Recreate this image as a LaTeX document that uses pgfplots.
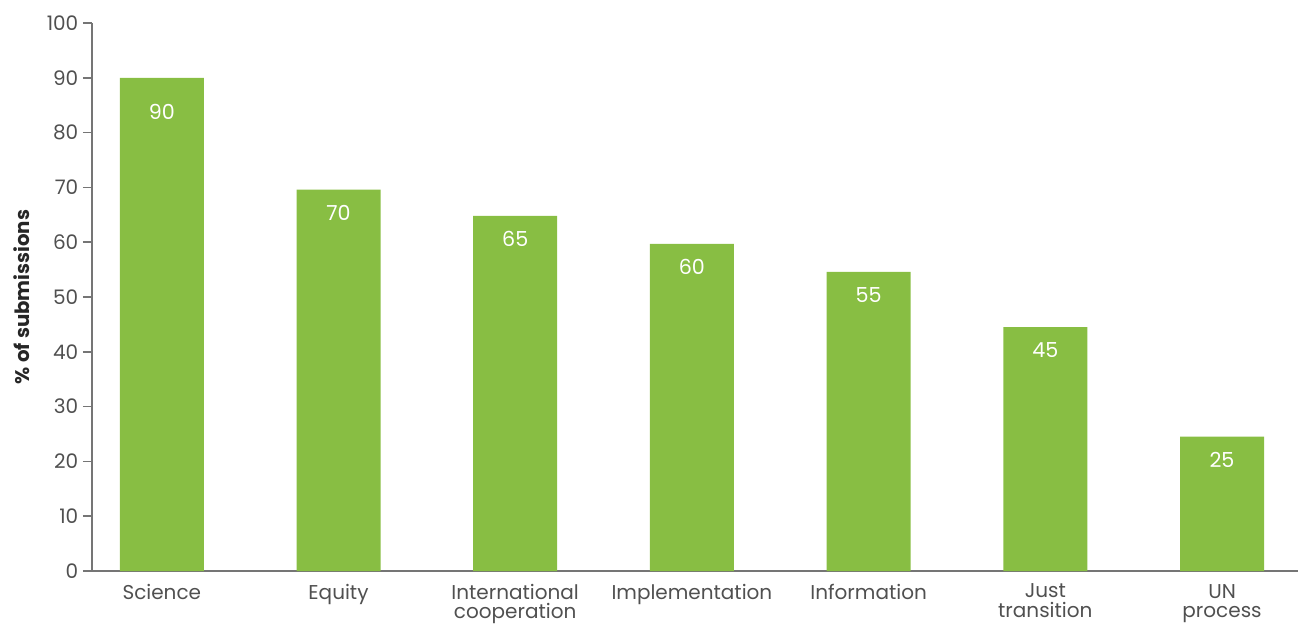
\documentclass[border=0pt]{standalone}
\usepackage{fontspec}
\setmainfont{Poppins}
\usepackage{pgfplots}
\usepackage{pgfplotstable}
\pgfplotsset{compat=1.18}
\definecolor{bargreen}{HTML}{88BE43}
\definecolor{axgray}{HTML}{757575}
\definecolor{txtgray}{HTML}{505050}
\pgfplotstableread{
x y lab off
0 90.0 90 25.5
1 69.6 70 17.25
2 64.8 65 17.25
3 59.7 60 17.25
4 54.6 55 17.25
5 44.5 45 17.25
6 24.5 25 17.25
}\datatab
\begin{document}
\begin{tikzpicture}
\begin{axis}[
 scale only axis, width=904.5pt, height=411pt,
 xmin=-0.395, xmax=6.43, ymin=0, ymax=100,
 axis x line*=bottom, axis y line*=left,
 axis line style={draw=axgray, line width=1.1pt},
 ytick={0,10,...,100},
 xtick={0,...,6},
 xticklabels={Science,Equity,{International\\cooperation},Implementation,Information,{Just\\transition},{UN\\process}},
 xticklabel style={align=center, font=\fontsize{15}{14.6}\selectfont, text=txtgray, yshift=0.5pt},
 yticklabel style={font=\fontsize{15}{17}\selectfont, text=txtgray},
 /pgf/number format/assume math mode=true,
 tick align=outside,
 major tick length=6.75pt,
 ytick style={draw=axgray, line width=1.1pt},
 xtick style={draw=none},
 ylabel={\textbf{\% of submissions}},
 every axis y label/.style={at={(axis description cs:-0.058,0.5)}, rotate=90, anchor=center, font=\fontsize{14.8}{16}\selectfont, text=black!85},
]
\addplot[ybar, bar width=63pt, fill=bargreen, draw=none,
  nodes near coords, point meta=explicit symbolic,
  visualization depends on={\thisrow{off}\as\off},
  every node near coord/.append style={anchor=center, yshift=-\off pt, text=white, font=\fontsize{15.5}{17}\selectfont}]
  table[x=x, y=y, meta=lab]{\datatab};
\end{axis}
\pgfresetboundingbox
\useasboundingbox (-69pt,-41.25pt) rectangle (904.5pt,428.25pt);
\end{tikzpicture}
\end{document}
